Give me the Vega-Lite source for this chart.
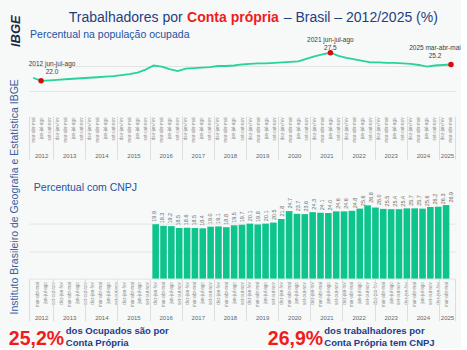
{
  "$schema": "https://vega.github.io/schema/vega-lite/v6.json",
  "background": "#f7f8f8",
  "padding": {"left": 8, "top": 10, "right": 0, "bottom": 0},
  "bounds": "flush",
  "spacing": 105.6,
  "config": {
    "view": {"stroke": null},
    "font": "Liberation Sans",
    "axis": {"labelFont": "Liberation Sans", "titleFont": "Liberation Sans"},
    "text": {"font": "Liberation Sans"}
  },
  "datasets": {
    "pnad": [
      {"i": 0, "ano": 2012, "trimestre": "mar-abr-mai", "ocupados": 22.6, "cnpj": null},
      {"i": 1, "ano": 2012, "trimestre": "jun-jul-ago", "ocupados": 22.0, "cnpj": null},
      {"i": 2, "ano": 2012, "trimestre": "set-out-nov", "ocupados": 22.1, "cnpj": null},
      {"i": 3, "ano": 2013, "trimestre": "dez-jan-fev", "ocupados": 22.2, "cnpj": null},
      {"i": 4, "ano": 2013, "trimestre": "mar-abr-mai", "ocupados": 22.3, "cnpj": null},
      {"i": 5, "ano": 2013, "trimestre": "jun-jul-ago", "ocupados": 22.4, "cnpj": null},
      {"i": 6, "ano": 2013, "trimestre": "set-out-nov", "ocupados": 22.5, "cnpj": null},
      {"i": 7, "ano": 2014, "trimestre": "dez-jan-fev", "ocupados": 22.6, "cnpj": null},
      {"i": 8, "ano": 2014, "trimestre": "mar-abr-mai", "ocupados": 22.7, "cnpj": null},
      {"i": 9, "ano": 2014, "trimestre": "jun-jul-ago", "ocupados": 22.8, "cnpj": null},
      {"i": 10, "ano": 2014, "trimestre": "set-out-nov", "ocupados": 22.9, "cnpj": null},
      {"i": 11, "ano": 2015, "trimestre": "dez-jan-fev", "ocupados": 23.1, "cnpj": null},
      {"i": 12, "ano": 2015, "trimestre": "mar-abr-mai", "ocupados": 23.3, "cnpj": null},
      {"i": 13, "ano": 2015, "trimestre": "jun-jul-ago", "ocupados": 23.6, "cnpj": null},
      {"i": 14, "ano": 2015, "trimestre": "set-out-nov", "ocupados": 24.2, "cnpj": null},
      {"i": 15, "ano": 2016, "trimestre": "dez-jan-fev", "ocupados": 25.0, "cnpj": 19.9},
      {"i": 16, "ano": 2016, "trimestre": "mar-abr-mai", "ocupados": 24.8, "cnpj": 19.3},
      {"i": 17, "ano": 2016, "trimestre": "jun-jul-ago", "ocupados": 24.3, "cnpj": 19.2},
      {"i": 18, "ano": 2016, "trimestre": "set-out-nov", "ocupados": 23.9, "cnpj": 18.5},
      {"i": 19, "ano": 2017, "trimestre": "dez-jan-fev", "ocupados": 24.4, "cnpj": 18.6},
      {"i": 20, "ano": 2017, "trimestre": "mar-abr-mai", "ocupados": 24.5, "cnpj": 18.5},
      {"i": 21, "ano": 2017, "trimestre": "jun-jul-ago", "ocupados": 24.6, "cnpj": 18.4},
      {"i": 22, "ano": 2017, "trimestre": "set-out-nov", "ocupados": 24.7, "cnpj": 19.0},
      {"i": 23, "ano": 2018, "trimestre": "dez-jan-fev", "ocupados": 24.9, "cnpj": 19.1},
      {"i": 24, "ano": 2018, "trimestre": "mar-abr-mai", "ocupados": 24.9, "cnpj": 18.8},
      {"i": 25, "ano": 2018, "trimestre": "jun-jul-ago", "ocupados": 25.0, "cnpj": 19.5},
      {"i": 26, "ano": 2018, "trimestre": "set-out-nov", "ocupados": 25.2, "cnpj": 19.7},
      {"i": 27, "ano": 2019, "trimestre": "dez-jan-fev", "ocupados": 25.3, "cnpj": 20.1},
      {"i": 28, "ano": 2019, "trimestre": "mar-abr-mai", "ocupados": 25.4, "cnpj": 19.8},
      {"i": 29, "ano": 2019, "trimestre": "jun-jul-ago", "ocupados": 25.4, "cnpj": 20.1},
      {"i": 30, "ano": 2019, "trimestre": "set-out-nov", "ocupados": 25.5, "cnpj": 20.5},
      {"i": 31, "ano": 2020, "trimestre": "dez-jan-fev", "ocupados": 25.6, "cnpj": 21.8},
      {"i": 32, "ano": 2020, "trimestre": "mar-abr-mai", "ocupados": 25.7, "cnpj": 24.7},
      {"i": 33, "ano": 2020, "trimestre": "jun-jul-ago", "ocupados": 25.8, "cnpj": 23.7},
      {"i": 34, "ano": 2020, "trimestre": "set-out-nov", "ocupados": 26.3, "cnpj": 23.6},
      {"i": 35, "ano": 2021, "trimestre": "dez-jan-fev", "ocupados": 26.8, "cnpj": 24.3},
      {"i": 36, "ano": 2021, "trimestre": "mar-abr-mai", "ocupados": 27.2, "cnpj": 24.1},
      {"i": 37, "ano": 2021, "trimestre": "jun-jul-ago", "ocupados": 27.5, "cnpj": 24.0},
      {"i": 38, "ano": 2021, "trimestre": "set-out-nov", "ocupados": 26.9, "cnpj": 24.6},
      {"i": 39, "ano": 2022, "trimestre": "dez-jan-fev", "ocupados": 26.5, "cnpj": 24.6},
      {"i": 40, "ano": 2022, "trimestre": "mar-abr-mai", "ocupados": 26.2, "cnpj": 24.8},
      {"i": 41, "ano": 2022, "trimestre": "jun-jul-ago", "ocupados": 25.9, "cnpj": 25.6},
      {"i": 42, "ano": 2022, "trimestre": "set-out-nov", "ocupados": 25.6, "cnpj": 26.8},
      {"i": 43, "ano": 2023, "trimestre": "dez-jan-fev", "ocupados": 25.6, "cnpj": 26.0},
      {"i": 44, "ano": 2023, "trimestre": "mar-abr-mai", "ocupados": 25.5, "cnpj": 25.5},
      {"i": 45, "ano": 2023, "trimestre": "jun-jul-ago", "ocupados": 25.5, "cnpj": 25.4},
      {"i": 46, "ano": 2023, "trimestre": "set-out-nov", "ocupados": 25.4, "cnpj": 25.4},
      {"i": 47, "ano": 2024, "trimestre": "dez-jan-fev", "ocupados": 25.3, "cnpj": 25.7},
      {"i": 48, "ano": 2024, "trimestre": "mar-abr-mai", "ocupados": 25.1, "cnpj": 25.7},
      {"i": 49, "ano": 2024, "trimestre": "jun-jul-ago", "ocupados": 24.8, "cnpj": 25.6},
      {"i": 50, "ano": 2024, "trimestre": "set-out-nov", "ocupados": 25.0, "cnpj": 26.2},
      {"i": 51, "ano": 2025, "trimestre": "dez-jan-fev", "ocupados": 25.1, "cnpj": 26.3},
      {"i": 52, "ano": 2025, "trimestre": "mar-abr-mai", "ocupados": 25.2, "cnpj": 26.9}
    ],
    "destaques": [
      {"i": 1, "ocupados": 22.0, "rotulo": ["2012 jun-jul-ago", "22.0"]},
      {"i": 37, "ocupados": 27.5, "rotulo": ["2021 jun-jul-ago", "27.5"]},
      {"i": 52, "ocupados": 25.2, "rotulo": ["2025 mar-abr-mai", "25.2"]}
    ]
  },
  "vconcat": [
    {
      "width": 426,
      "height": 51,
      "data": {"name": "pnad"},
      "resolve": {"scale": {"x": "independent"}},
      "layer": [
        {
          "mark": {"type": "line", "color": "#27d39d", "strokeWidth": 1.8},
          "encoding": {
            "x": {"field": "i", "type": "quantitative", "scale": {"domain": [-0.5, 52.5], "nice": false, "zero": false},
              "axis": {"orient": "bottom", "offset": 0, "values": [0,1,2,3,4,5,6,7,8,9,10,11,12,13,14,15,16,17,18,19,20,21,22,23,24,25,26,27,28,29,30,31,32,33,34,35,36,37,38,39,40,41,42,43,44,45,46,47,48,49,50,51,52],
                "labelExpr": "['mar-abr-mai','jun-jul-ago','set-out-nov','dez-jan-fev'][datum.value % 4]",
                "labelAngle": -90, "labelAlign": "right", "labelBaseline": "middle", "labelFontSize": 4.6, "labelColor": "#8a8a8a", "labelPadding": 26,
                "ticks": false, "tickSize": 0, "domain": false, "grid": false, "title": null, "labelOverlap": false, "labelFlush": false, "labelBound": false}},
            "y": {"field": "ocupados", "type": "quantitative", "scale": {"domain": [20, 30], "nice": false, "zero": false},
              "axis": {"values": [20, 25], "grid": true, "gridColor": "#e3e5e5", "labels": false, "ticks": false, "domain": false,
                "title": "IBGE", "titleX": -13.2, "titleY": -9.3, "titleAngle": 270, "titleAlign": "center", "titleBaseline": "middle",
                "titleFontSize": 13, "titleFontWeight": "bold", "titleFontStyle": "italic", "titleColor": "#1c2b4a"}}
          }
        },
        {
          "data": {"name": "destaques"},
          "mark": {"type": "point", "filled": true, "color": "#d80b0b", "size": 30, "opacity": 1},
          "encoding": {
            "x": {"field": "i", "type": "quantitative", "scale": {"domain": [-0.5, 52.5], "nice": false, "zero": false},
              "axis": {"orient": "bottom", "offset": 61, "values": [1, 4.5, 8.5, 12.5, 16.5, 20.5, 24.5, 28.5, 32.5, 36.5, 40.5, 44.5, 48.5, 51.5],
                "labelExpr": "'' + (floor((datum.value + 1) / 4) + 2012)", "labelAngle": 0, "labelFontSize": 6, "labelColor": "#666666",
                "labelPadding": 0, "ticks": false, "tickSize": 0, "domain": false, "grid": false, "title": null,
                "labelOverlap": false, "labelFlush": false, "labelBound": false}},
            "y": {"field": "ocupados", "type": "quantitative", "scale": {"domain": [20, 30], "nice": false, "zero": false}}
          }
        },
        {
          "data": {"name": "destaques"},
          "transform": [{"filter": "datum.i == 37"}],
          "mark": {"type": "text", "fontSize": 6.5, "lineHeight": 8, "baseline": "bottom", "dy": -10, "color": "#3c3c3c"},
          "encoding": {
            "x": {"field": "i", "type": "quantitative", "scale": {"domain": [-0.5, 52.5], "nice": false, "zero": false},
              "axis": {"orient": "bottom", "offset": 25, "values": [-0.5, 2.5, 6.5, 10.5, 14.5, 18.5, 22.5, 26.5, 30.5, 34.5, 38.5, 42.5, 46.5, 50.5, 52.5],
                "labels": false, "ticks": true, "tickSize": 43, "tickColor": "#dcdede", "tickWidth": 1, "domain": false, "grid": false, "title": null}},
            "y": {"field": "ocupados", "type": "quantitative", "scale": {"domain": [20, 30], "nice": false, "zero": false}},
            "text": {"field": "rotulo"}
          }
        },
        {
          "data": {"name": "destaques"},
          "transform": [{"filter": "datum.i == 1"}],
          "mark": {"type": "text", "fontSize": 6.5, "lineHeight": 8, "baseline": "bottom", "dy": -14, "dx": 11, "color": "#3c3c3c"},
          "encoding": {
            "x": {"field": "i", "type": "quantitative", "scale": {"domain": [-0.5, 52.5], "nice": false, "zero": false},
              "axis": {"orient": "top", "labels": false, "ticks": false, "domain": false, "grid": false,
                "title": "Trabalhadores por", "titleX": 39.3, "titleY": -18.3, "titleAlign": "left", "titleBaseline": "alphabetic", "titleAngle": 0,
                "titleFontSize": 14, "titleFontWeight": "normal", "titleColor": "#1f3f7f"}},
            "y": {"field": "ocupados", "type": "quantitative", "scale": {"domain": [20, 30], "nice": false, "zero": false}},
            "text": {"field": "rotulo"}
          }
        },
        {
          "data": {"name": "destaques"},
          "transform": [{"filter": "datum.i == 52"}],
          "mark": {"type": "text", "fontSize": 6.5, "lineHeight": 8, "baseline": "bottom", "dy": -13, "dx": -16, "color": "#3c3c3c"},
          "encoding": {
            "x": {"field": "i", "type": "quantitative", "scale": {"domain": [-0.5, 52.5], "nice": false, "zero": false},
              "axis": {"orient": "top", "labels": false, "ticks": false, "domain": false, "grid": false,
                "title": "Conta própria", "titleX": 157.6, "titleY": -18.3, "titleAlign": "left", "titleBaseline": "alphabetic", "titleAngle": 0,
                "titleFontSize": 14, "titleFontWeight": "bold", "titleColor": "#f01c1c"}},
            "y": {"field": "ocupados", "type": "quantitative", "scale": {"domain": [20, 30], "nice": false, "zero": false}},
            "text": {"field": "rotulo"}
          }
        },
        {
          "mark": {"type": "point", "opacity": 0},
          "encoding": {
            "x": {"field": "i", "type": "quantitative", "scale": {"domain": [-0.5, 52.5], "nice": false, "zero": false},
              "axis": {"orient": "top", "labels": false, "ticks": false, "domain": false, "grid": false,
                "title": "– Brasil – 2012/2025 (%)", "titleX": 254.3, "titleY": -18.3, "titleAlign": "left", "titleBaseline": "alphabetic", "titleAngle": 0,
                "titleFontSize": 14, "titleFontWeight": "normal", "titleColor": "#1f3f7f"}},
            "y": {"field": "ocupados", "type": "quantitative", "scale": {"domain": [20, 30], "nice": false, "zero": false}}
          }
        },
        {
          "mark": {"type": "point", "opacity": 0},
          "encoding": {
            "x": {"field": "i", "type": "quantitative", "scale": {"domain": [-0.5, 52.5], "nice": false, "zero": false},
              "axis": {"orient": "top", "labels": false, "ticks": false, "domain": false, "grid": false,
                "title": "Percentual na população ocupada", "titleX": 0.6, "titleY": -2.8, "titleAlign": "left", "titleBaseline": "alphabetic", "titleAngle": 0,
                "titleFontSize": 10.5, "titleFontWeight": "normal", "titleColor": "#2452a0"}},
            "y": {"field": "ocupados", "type": "quantitative", "scale": {"domain": [20, 30], "nice": false, "zero": false}}
          }
        }
      ]
    },
    {
      "width": 426,
      "height": 82,
      "data": {"name": "pnad"},
      "transform": [{"filter": "isValid(datum.cnpj)"}],
      "resolve": {"scale": {"x": "independent"}},
      "layer": [
        {
          "mark": {"type": "bar", "width": 6.6, "color": "#0ec48d"},
          "encoding": {
            "x": {"field": "i", "type": "quantitative", "scale": {"domain": [-0.5, 52.5], "nice": false, "zero": false},
              "axis": {"orient": "bottom", "offset": 0, "values": [0,1,2,3,4,5,6,7,8,9,10,11,12,13,14,15,16,17,18,19,20,21,22,23,24,25,26,27,28,29,30,31,32,33,34,35,36,37,38,39,40,41,42,43,44,45,46,47,48,49,50,51,52],
                "labelExpr": "['mar-abr-mai','jun-jul-ago','set-out-nov','dez-jan-fev'][datum.value % 4]",
                "labelAngle": -90, "labelAlign": "right", "labelBaseline": "middle", "labelFontSize": 4.6, "labelColor": "#8a8a8a", "labelPadding": 3,
                "ticks": false, "tickSize": 0, "domain": false, "grid": false, "title": null, "labelOverlap": false, "labelFlush": false, "labelBound": false}},
            "y": {"field": "cnpj", "type": "quantitative", "scale": {"domain": [0, 30], "nice": false, "zero": true},
              "axis": {"values": [0, 5, 10, 15, 20, 25], "grid": true, "gridColor": "#e3e5e5", "labels": false, "ticks": false, "domain": false,
                "title": "Instituto Brasileiro de Geografia e Estatística IBGE", "titleX": -14.7, "titleY": -0.3, "titleAngle": 270,
                "titleAlign": "center", "titleBaseline": "middle", "titleFontSize": 10.5, "titleFontWeight": "normal", "titleColor": "#3b5ea0"}}
          }
        },
        {
          "mark": {"type": "text", "angle": 270, "align": "left", "baseline": "middle", "dx": 2.5, "fontSize": 5.5, "color": "#6e6e6e"},
          "encoding": {
            "x": {"field": "i", "type": "quantitative", "scale": {"domain": [-0.5, 52.5], "nice": false, "zero": false},
              "axis": {"orient": "bottom", "offset": 36, "values": [1, 4.5, 8.5, 12.5, 16.5, 20.5, 24.5, 28.5, 32.5, 36.5, 40.5, 44.5, 48.5, 51.5],
                "labelExpr": "'' + (floor((datum.value + 1) / 4) + 2012)", "labelAngle": 0, "labelFontSize": 6, "labelColor": "#666666",
                "labelPadding": 0, "ticks": false, "tickSize": 0, "domain": false, "grid": false, "title": null,
                "labelOverlap": false, "labelFlush": false, "labelBound": false}},
            "y": {"field": "cnpj", "type": "quantitative", "scale": {"domain": [0, 30], "nice": false, "zero": true}},
            "text": {"field": "cnpj", "type": "quantitative", "format": ".1f"}
          }
        },
        {
          "mark": {"type": "point", "opacity": 0},
          "encoding": {
            "x": {"field": "i", "type": "quantitative", "scale": {"domain": [-0.5, 52.5], "nice": false, "zero": false},
              "axis": {"orient": "bottom", "offset": 0, "values": [-0.5, 2.5, 6.5, 10.5, 14.5, 18.5, 22.5, 26.5, 30.5, 34.5, 38.5, 42.5, 46.5, 50.5, 52.5],
                "labels": false, "ticks": true, "tickSize": 42, "tickColor": "#dcdede", "tickWidth": 1, "domain": false, "grid": false, "title": null}},
            "y": {"field": "cnpj", "type": "quantitative", "scale": {"domain": [0, 30], "nice": false, "zero": true}}
          }
        },
        {
          "mark": {"type": "point", "opacity": 0},
          "encoding": {
            "x": {"field": "i", "type": "quantitative", "scale": {"domain": [-0.5, 52.5], "nice": false, "zero": false},
              "axis": {"orient": "top", "labels": false, "ticks": false, "domain": false, "grid": false,
                "title": "Percentual com CNPJ", "titleX": 4.3, "titleY": -5.8, "titleAlign": "left", "titleBaseline": "alphabetic", "titleAngle": 0,
                "titleFontSize": 10.5, "titleFontWeight": "normal", "titleColor": "#2452a0"}},
            "y": {"field": "cnpj", "type": "quantitative", "scale": {"domain": [0, 30], "nice": false, "zero": true}}
          }
        },
        {
          "mark": {"type": "point", "opacity": 0},
          "encoding": {
            "x": {"field": "i", "type": "quantitative", "scale": {"domain": [-0.5, 52.5], "nice": false, "zero": false},
              "axis": {"orient": "bottom", "labels": false, "ticks": false, "domain": false, "grid": false,
                "title": "25,2%", "titleX": -20.7, "titleY": 65.5, "titleAlign": "left", "titleBaseline": "alphabetic", "titleAngle": 0,
                "titleFontSize": 19.5, "titleFontWeight": "bold", "titleColor": "#f01c1c"}},
            "y": {"field": "cnpj", "type": "quantitative", "scale": {"domain": [0, 30], "nice": false, "zero": true}}
          }
        },
        {
          "mark": {"type": "point", "opacity": 0},
          "encoding": {
            "x": {"field": "i", "type": "quantitative", "scale": {"domain": [-0.5, 52.5], "nice": false, "zero": false},
              "axis": {"orient": "bottom", "labels": false, "ticks": false, "domain": false, "grid": false,
                "title": ["dos Ocupados são por", "Conta Própria"], "titleX": 36.3, "titleY": 47, "titleAlign": "left", "titleBaseline": "top", "titleAngle": 0,
                "titleLineHeight": 12, "titleFontSize": 9.5, "titleFontWeight": "bold", "titleColor": "#1c3c8c"}},
            "y": {"field": "cnpj", "type": "quantitative", "scale": {"domain": [0, 30], "nice": false, "zero": true}}
          }
        },
        {
          "mark": {"type": "point", "opacity": 0},
          "encoding": {
            "x": {"field": "i", "type": "quantitative", "scale": {"domain": [-0.5, 52.5], "nice": false, "zero": false},
              "axis": {"orient": "bottom", "labels": false, "ticks": false, "domain": false, "grid": false,
                "title": "26,9%", "titleX": 238.3, "titleY": 65.5, "titleAlign": "left", "titleBaseline": "alphabetic", "titleAngle": 0,
                "titleFontSize": 19.5, "titleFontWeight": "bold", "titleColor": "#f01c1c"}},
            "y": {"field": "cnpj", "type": "quantitative", "scale": {"domain": [0, 30], "nice": false, "zero": true}}
          }
        },
        {
          "mark": {"type": "point", "opacity": 0},
          "encoding": {
            "x": {"field": "i", "type": "quantitative", "scale": {"domain": [-0.5, 52.5], "nice": false, "zero": false},
              "axis": {"orient": "bottom", "labels": false, "ticks": false, "domain": false, "grid": false,
                "title": ["dos trabalhadores por", "Conta Própria tem CNPJ"], "titleX": 294.8, "titleY": 47, "titleAlign": "left", "titleBaseline": "top", "titleAngle": 0,
                "titleLineHeight": 12, "titleFontSize": 9.5, "titleFontWeight": "bold", "titleColor": "#1c3c8c"}},
            "y": {"field": "cnpj", "type": "quantitative", "scale": {"domain": [0, 30], "nice": false, "zero": true}}
          }
        }
      ]
    }
  ]
}
